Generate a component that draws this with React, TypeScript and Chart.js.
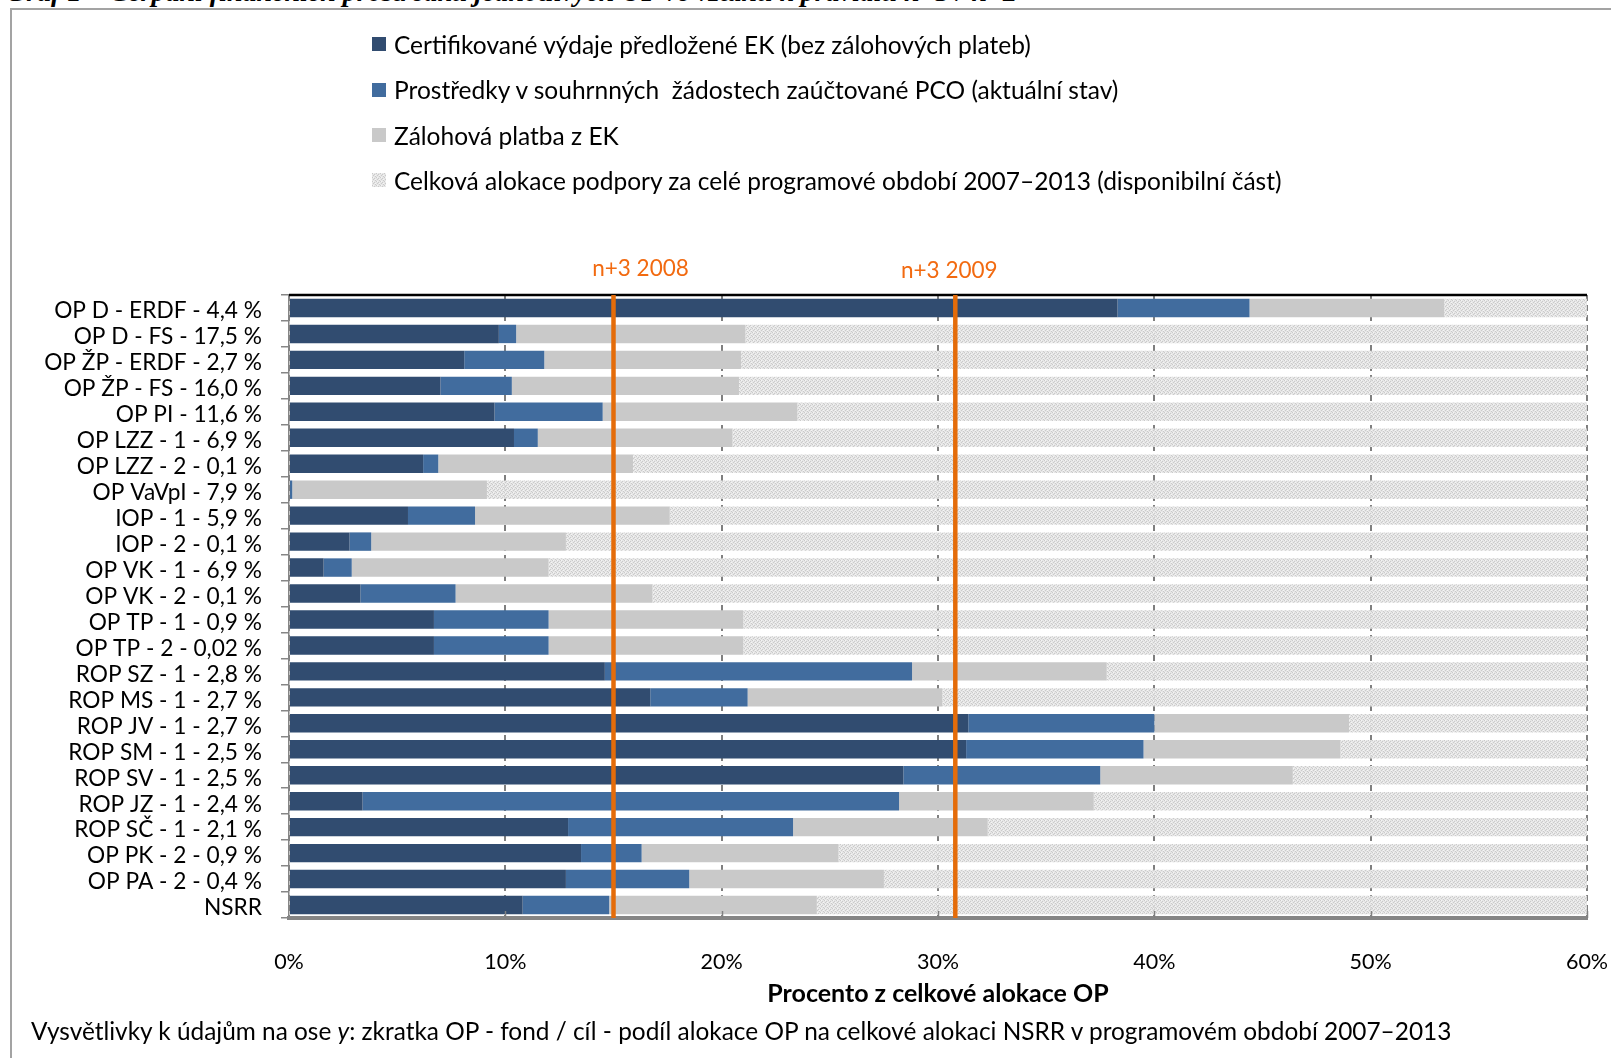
import React, { useEffect, useRef } from "react";
import { Chart, registerables } from "chart.js";

Chart.register(...registerables);

// ---------- data ----------
const categories = [
  "OP D - ERDF - 4,4 %",
  "OP D - FS - 17,5 %",
  "OP ŽP - ERDF - 2,7 %",
  "OP ŽP - FS - 16,0 %",
  "OP PI - 11,6 %",
  "OP LZZ - 1 - 6,9 %",
  "OP LZZ - 2 - 0,1 %",
  "OP VaVpI - 7,9 %",
  "IOP - 1 - 5,9 %",
  "IOP - 2 - 0,1 %",
  "OP VK - 1 - 6,9 %",
  "OP VK - 2 - 0,1 %",
  "OP TP - 1 - 0,9 %",
  "OP TP - 2 - 0,02 %",
  "ROP SZ - 1 - 2,8 %",
  "ROP MS - 1 - 2,7 %",
  "ROP JV - 1 - 2,7 %",
  "ROP SM - 1 - 2,5 %",
  "ROP SV - 1 - 2,5 %",
  "ROP JZ - 1 - 2,4 %",
  "ROP SČ - 1 - 2,1 %",
  "OP PK - 2 - 0,9 %",
  "OP PA - 2 - 0,4 %",
  "NSRR",
];

const certified = [38.3, 9.7, 8.1, 7.0, 9.5, 10.4, 6.2, 0, 5.5, 2.8, 1.6, 3.3, 6.7, 6.7, 14.6, 16.7, 31.4, 31.3, 28.4, 3.4, 12.9, 13.5, 12.8, 10.8];
const pco = [6.1, 0.8, 3.7, 3.3, 5.0, 1.1, 0.7, 0.15, 3.1, 1.0, 1.3, 4.4, 5.3, 5.3, 14.2, 4.5, 8.6, 8.2, 9.1, 24.8, 10.4, 2.8, 5.7, 4.0];
const advance = [9.0, 10.6, 9.1, 10.5, 9.0, 9.0, 9.0, 9.0, 9.0, 9.0, 9.1, 9.1, 9.0, 9.0, 9.0, 9.0, 9.0, 9.1, 8.9, 9.0, 9.0, 9.1, 9.0, 9.6];
const totalAllocation = 100;
const remaining = categories.map((_, i) => totalAllocation - certified[i] - pco[i] - advance[i]);

const seriesNames = [
  "Certifikované výdaje předložené EK (bez zálohových plateb)",
  "Prostředky v souhrnných  žádostech zaúčtované PCO (aktuální stav)",
  "Zálohová platba z EK",
  "Celková alokace podpory za celé programové období 2007–2013 (disponibilní část)",
];

const xMin = 0;
const xMax = 60;
const xStep = 10;

const deadlineLabels = ["n+3 2008", "n+3 2009"];
const deadlineValues = [15.0, 30.8];

const xTitle = "Procento z celkové alokace OP";
const pageTitle = "Graf 1 – Čerpání finančních prostředků jednotlivých OP ve vztahu k pravidlu n+3 / n+2";

// ---------- styles ----------
const FONT = "Lato, 'Open Sans', sans-serif";
const C_DARK = "#314C70";
const C_BLUE = "#416C9E";
const C_GRAY = "#C9C9C9";
const C_ORANGE_LINE = "#E46C0A";
const C_ORANGE_TEXT = "#F26A10";

function makePatternCanvas(): HTMLCanvasElement {
  const c = document.createElement("canvas");
  c.width = 4;
  c.height = 4;
  const g = c.getContext("2d")!;
  g.fillStyle = "rgba(228,228,228,0.92)";
  g.fillRect(0, 0, 4, 4);
  g.fillStyle = "rgba(200,200,200,0.92)";
  g.fillRect(0, 0, 1, 1);
  g.fillRect(2, 1, 1, 1);
  g.fillRect(1, 2, 1, 1);
  g.fillRect(3, 3, 1, 1);
  g.fillStyle = "rgba(245,245,245,0.92)";
  g.fillRect(1, 0, 1, 1);
  g.fillRect(3, 2, 1, 1);
  return c;
}

const deadlineOffsets = [
  { dx: 27, dy: -26 },
  { dx: -6, dy: -24 },
];

const overlayPlugin = {
  id: "overlay",
  afterDatasetsDraw(chart: any) {
    const { ctx, chartArea, scales } = chart;
    const x = scales.x;
    ctx.save();
    // top frame line of plot area
    ctx.strokeStyle = "#000";
    ctx.lineWidth = 2.5;
    ctx.beginPath();
    ctx.moveTo(chartArea.left, chartArea.top);
    ctx.lineTo(chartArea.right, chartArea.top);
    ctx.stroke();
    // inside tick marks on x axis
    ctx.strokeStyle = "#808080";
    ctx.lineWidth = 1.5;
    for (let v = xMin + xStep; v <= xMax; v += xStep) {
      const px = Math.round(x.getPixelForValue(v)) + 0.5;
      ctx.beginPath();
      ctx.moveTo(px, chartArea.bottom);
      ctx.lineTo(px, chartArea.bottom - 7);
      ctx.stroke();
    }
    // deadline lines
    deadlineValues.forEach((val, i) => {
      const px = x.getPixelForValue(val);
      ctx.strokeStyle = C_ORANGE_LINE;
      ctx.lineWidth = 4.5;
      ctx.beginPath();
      ctx.moveTo(px, chartArea.top);
      ctx.lineTo(px, chartArea.bottom);
      ctx.stroke();
      ctx.fillStyle = C_ORANGE_TEXT;
      ctx.font = `22.5px ${FONT}`;
      ctx.textAlign = "center";
      ctx.textBaseline = "middle";
      ctx.fillText(deadlineLabels[i], px + deadlineOffsets[i].dx, chartArea.top + deadlineOffsets[i].dy);
    });
    ctx.restore();
  },
};

export default function App() {
  const canvasRef = useRef<HTMLCanvasElement | null>(null);
  const [swatch, setSwatch] = React.useState<string>("");

  useEffect(() => {
    const canvas = canvasRef.current!;
    const pc = makePatternCanvas();
    const pattern = canvas.getContext("2d")!.createPattern(pc, "repeat");
    setSwatch(pc.toDataURL());

    const chart = new Chart(canvas, {
      type: "bar",
      data: {
        labels: categories,
        datasets: [
          { label: seriesNames[0], data: certified, backgroundColor: C_DARK },
          { label: seriesNames[1], data: pco, backgroundColor: C_BLUE },
          { label: seriesNames[2], data: advance, backgroundColor: C_GRAY },
          { label: seriesNames[3], data: remaining, backgroundColor: pattern as any },
        ],
      },
      options: {
        indexAxis: "y",
        animation: false,
        responsive: false,
        devicePixelRatio: 1,
        layout: { padding: { left: 0, top: 295, right: 24, bottom: 49 } },
        datasets: { bar: { barPercentage: 0.71, categoryPercentage: 1, borderWidth: 0 } },
        plugins: {
          legend: { display: false },
          tooltip: { enabled: false },
          title: { display: false },
        },
        scales: {
          x: {
            type: "linear",
            stacked: true,
            min: xMin,
            max: xMax,
            afterFit: (s: any) => {
              s.height = 91;
            },
            ticks: {
              stepSize: xStep,
              padding: 0,
              color: "#000",
              font: { family: FONT, size: 21.5 },
              callback: (v: any) => `${v}%`,
            },
            grid: {
              color: "#7f7f7f",
              lineWidth: 2,
              drawTicks: true,
              tickLength: 31,
              tickColor: "rgba(0,0,0,0)",
            },
            border: { display: true, color: "#858585", width: 4, dash: [6, 4] },
            title: {
              display: true,
              text: xTitle,
              color: "#000",
              padding: { top: 0, bottom: 0 },
              font: { family: FONT, size: 25, weight: "bold" },
            },
          },
          y: {
            type: "category",
            stacked: true,
            afterFit: (s: any) => {
              s.width = 289;
            },
            ticks: {
              padding: 19,
              labelOffset: 3,
              color: "#000",
              autoSkip: false,
              font: { family: FONT, size: 22.7 },
            },
            grid: {
              offset: true,
              drawOnChartArea: false,
              drawTicks: true,
              tickLength: 8,
              color: "#868686",
              lineWidth: 1.5,
            },
            border: { display: true, color: "#868686", width: 1.5 },
          },
        },
      },
      plugins: [overlayPlugin],
    } as any);
    return () => chart.destroy();
  }, []);

  const swatches = [C_DARK, C_BLUE, C_GRAY, ""];
  const legendCenters = [44, 89.5, 135, 180];

  return (
    <div style={{ position: "absolute", left: 0, top: 0, width: 1611, height: 1058, overflow: "hidden", background: "#fff" }}>
      <div
        style={{
          position: "absolute",
          left: 6,
          top: -22,
          lineHeight: 1,
          fontFamily: "'Liberation Serif', serif",
          fontStyle: "italic",
          fontWeight: "bold",
          fontSize: 28,
          whiteSpace: "nowrap",
          color: "#000",
        }}
      >
        {pageTitle}
      </div>
      <div
        style={{
          position: "absolute",
          left: 10,
          top: 8,
          width: 1700,
          height: 1200,
          borderTop: "2px solid #a3a3a3",
          borderLeft: "2px solid #a3a3a3",
        }}
      />
      <canvas ref={canvasRef} width={1611} height={1058} style={{ position: "absolute", left: 0, top: 0, width: 1611, height: 1058 }} />
      {seriesNames.map((name, i) => (
        <div
          key={name}
          style={{
            position: "absolute",
            left: 372,
            top: legendCenters[i] - 14,
            height: 28,
            display: "flex",
            alignItems: "center",
            whiteSpace: "pre",
            fontFamily: FONT,
            fontSize: 24.5,
            color: "#000",
          }}
        >
          <span
            style={{
              display: "inline-block",
              width: 14,
              height: 14,
              marginRight: 8,
              background: swatches[i] || (swatch ? `url(${swatch}) repeat` : "#e6e6e6"),
            }}
          />
          <span>{name}</span>
        </div>
      ))}
      <div
        style={{
          position: "absolute",
          left: 31,
          top: 1031 - 14,
          height: 28,
          lineHeight: "28px",
          whiteSpace: "nowrap",
          fontFamily: FONT,
          fontSize: 24.4,
          color: "#000",
        }}
      >
        Vysvětlivky k údajům na ose <i>y</i>: zkratka OP - fond / cíl - podíl alokace OP na celkové alokaci NSRR v programovém období 2007–2013
      </div>
    </div>
  );
}
